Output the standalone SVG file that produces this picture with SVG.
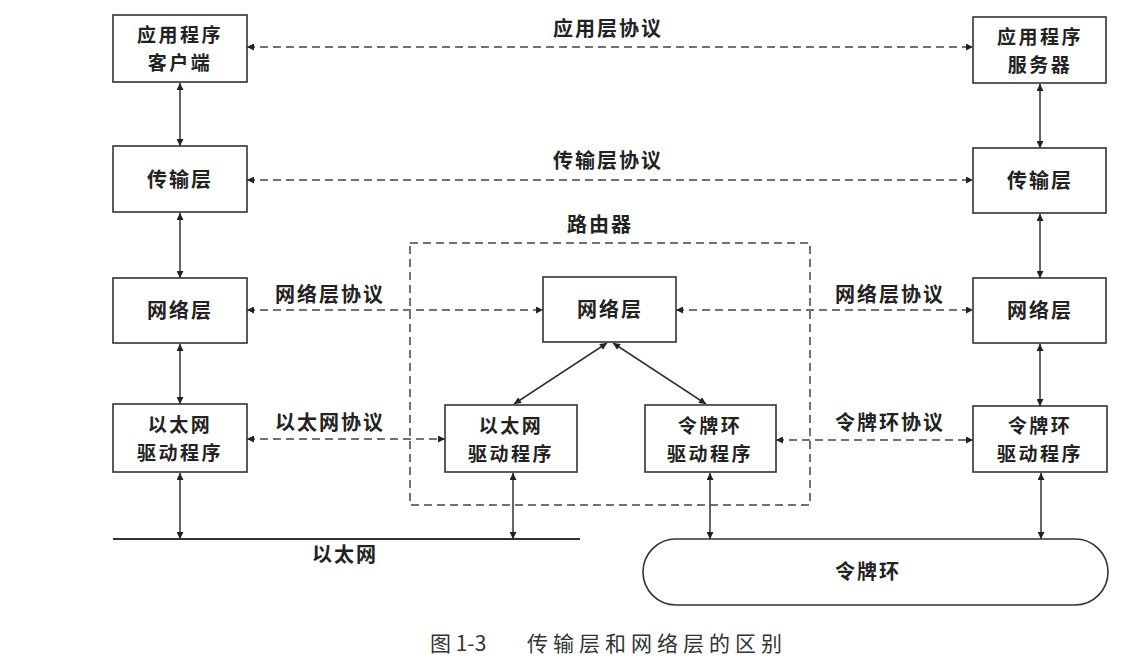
<svg xmlns="http://www.w3.org/2000/svg" width="1135" height="668" viewBox="0 0 1135 668">
<defs>
<style>
.box{fill:#fff;stroke:#333;stroke-width:1.6}
.t{font-family:"Noto Sans CJK SC","Noto Sans CJK JP",sans-serif;font-size:20px;font-weight:bold;fill:#222;text-anchor:middle;letter-spacing:2px}
.t2{font-family:"Noto Sans CJK SC","Noto Sans CJK JP",sans-serif;font-size:19px;font-weight:bold;fill:#222;text-anchor:middle;letter-spacing:2.5px}
.cap{font-family:"Noto Sans CJK SC",sans-serif;font-size:21px;fill:#333}
.solid{stroke:#333;stroke-width:1.5;fill:none;marker-start:url(#ah);marker-end:url(#ah)}
.dash{stroke:#444;stroke-width:1.5;fill:none;stroke-dasharray:8 5;marker-start:url(#ah);marker-end:url(#ah)}
.frame{fill:none;stroke:#444;stroke-width:1.5;stroke-dasharray:8 5}
</style>
<marker id="ah" viewBox="0 0 10 10" refX="10" refY="5" markerUnits="userSpaceOnUse" markerWidth="9" markerHeight="7" orient="auto-start-reverse">
<path d="M0,0 L10,5 L0,10 z" fill="#222"/>
</marker>
</defs>
<rect width="1135" height="668" fill="#fff"/>

<g id="router">
<rect class="frame" x="410" y="243" width="400" height="262"/>
<text class="t" x="600" y="232">路由器</text>
</g>

<g id="connectors">
<line class="dash" x1="247" y1="47" x2="973" y2="47"/>
<line class="dash" x1="247" y1="180" x2="973" y2="180"/>
<line class="dash" x1="247" y1="310" x2="543" y2="310"/>
<line class="dash" x1="676" y1="310" x2="973" y2="310"/>
<line class="dash" x1="247" y1="439" x2="445" y2="439"/>
<line class="dash" x1="776" y1="440" x2="973" y2="440"/>
<line class="solid" x1="180" y1="83" x2="180" y2="146"/>
<line class="solid" x1="180" y1="213" x2="180" y2="278"/>
<line class="solid" x1="180" y1="344" x2="180" y2="404"/>
<line class="solid" x1="180" y1="473" x2="180" y2="539"/>
<line class="solid" x1="1040" y1="84" x2="1040" y2="148"/>
<line class="solid" x1="1040" y1="214" x2="1040" y2="278"/>
<line class="solid" x1="1040" y1="344" x2="1040" y2="406"/>
<line class="solid" x1="1041" y1="473" x2="1041" y2="539"/>
<line class="solid" x1="513" y1="473" x2="513" y2="539"/>
<line class="solid" x1="710" y1="473" x2="710" y2="539"/>
<line class="solid" x1="607" y1="343" x2="514" y2="404"/>
<line class="solid" x1="613" y1="343" x2="706" y2="404"/>
<line stroke="#333" stroke-width="2" x1="113" y1="539" x2="580" y2="539"/>
</g>

<g id="app-client"><rect class="box" x="113" y="15" width="134" height="67"/><text class="t2" x="180" y="42">应用程序</text><text class="t2" x="180" y="70">客户端</text></g>
<g id="transport-left"><rect class="box" x="113" y="146" width="134" height="66"/><text class="t" x="180" y="187">传输层</text></g>
<g id="network-left"><rect class="box" x="113" y="278" width="134" height="65"/><text class="t" x="180" y="318">网络层</text></g>
<g id="eth-driver-left"><rect class="box" x="113" y="404" width="134" height="68"/><text class="t2" x="180" y="432">以太网</text><text class="t2" x="180" y="460">驱动程序</text></g>

<g id="app-server"><rect class="box" x="973" y="17" width="133" height="66"/><text class="t2" x="1040" y="44">应用程序</text><text class="t2" x="1040" y="72">服务器</text></g>
<g id="transport-right"><rect class="box" x="973" y="148" width="133" height="65"/><text class="t" x="1040" y="188">传输层</text></g>
<g id="network-right"><rect class="box" x="973" y="278" width="133" height="65"/><text class="t" x="1040" y="318">网络层</text></g>
<g id="tr-driver-right"><rect class="box" x="973" y="406" width="134" height="66"/><text class="t2" x="1040" y="433">令牌环</text><text class="t2" x="1040" y="461">驱动程序</text></g>

<g id="network-router"><rect class="box" x="543" y="277" width="133" height="65"/><text class="t" x="610" y="317">网络层</text></g>
<g id="eth-driver-router"><rect class="box" x="445" y="405" width="132" height="67"/><text class="t2" x="511" y="433">以太网</text><text class="t2" x="511" y="461">驱动程序</text></g>
<g id="tr-driver-router"><rect class="box" x="645" y="405" width="131" height="67"/><text class="t2" x="710" y="433">令牌环</text><text class="t2" x="710" y="461">驱动程序</text></g>

<g id="token-ring"><rect class="box" x="643" y="539" width="465" height="66" rx="33" ry="33"/><text class="t" x="868" y="579">令牌环</text></g>
<g id="ethernet-label"><text class="t" x="345" y="562">以太网</text></g>

<g id="labels">
<text class="t" x="608" y="36">应用层协议</text>
<text class="t" x="608" y="168">传输层协议</text>
<text class="t" x="330" y="302">网络层协议</text>
<text class="t" x="890" y="302">网络层协议</text>
<text class="t" x="330" y="430">以太网协议</text>
<text class="t" x="890" y="430">令牌环协议</text>
</g>

<g id="caption">
<text class="cap" x="430" y="651">图 1-3</text>
<text class="cap" x="527" y="651" letter-spacing="5">传输层和网络层的区别</text>
</g>
</svg>
